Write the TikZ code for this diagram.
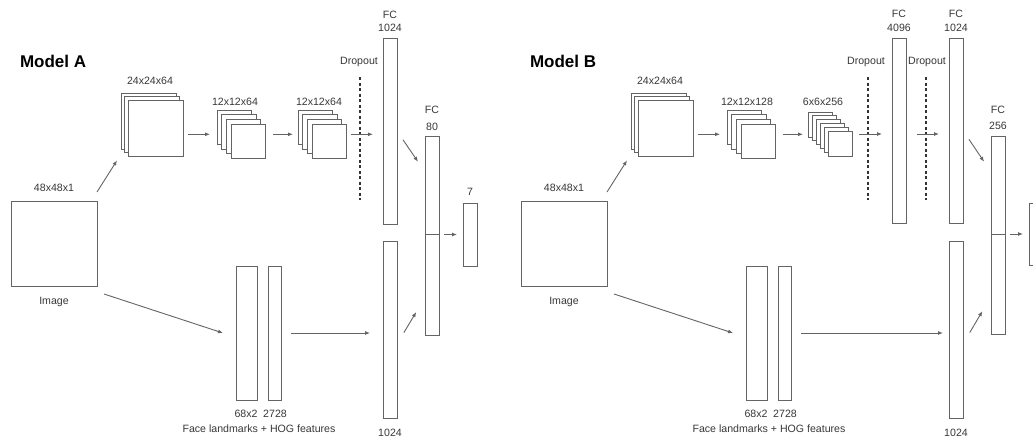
\documentclass[tikz,border=0pt]{standalone}
\usepackage{fontspec}
\setmainfont{Liberation Sans}
\usepackage{xcolor}
\definecolor{edge}{RGB}{100,100,100}
\definecolor{ink}{RGB}{55,55,55}
\usepackage{tikz}
\usetikzlibrary{arrows.meta,positioning}

\begin{document}
\begin{tikzpicture}[x=1pt, y=-1pt,
    every node/.style={inner sep=0pt, outer sep=0pt},
    txt/.style={text=ink, font=\fontsize{10.6}{13}\selectfont},
    title/.style={anchor=west, font=\fontsize{17}{20}\selectfont\bfseries},
    layer/.style={draw=edge, line width=1pt, fill=white, anchor=north west},
    frame/.style={anchor=north west},
    arr/.style={draw=edge, line width=0.9pt, -{Latex[length=5pt,width=4pt]}},
    drop/.style={draw=black!80, line width=1.6pt, dash pattern=on 3pt off 2.5pt}]
    \useasboundingbox (0,0) rectangle (1033,437);
    \clip (0,0) rectangle (1033,437);

    % ---------------- Model A ----------------
    \node[title] (tA) at (20,61) {Model A};

    % input image
    \node[layer, minimum width=86, minimum height=85] (imgA) at (11,201) {};
    \node[txt] at (54,188) {48x48x1};
    \node[txt] at (54,302) {Image};

    % conv feature maps
    \foreach \i in {0,1,2}
        \node[layer, minimum width=55, minimum height=56] at (121+3.5*\i, 93+3.7*\i) {};
    \node[frame, minimum width=62, minimum height=63.4] (A1) at (121,93) {};
    \node[txt] at (150,81) {24x24x64};

    \foreach \i in {0,...,3}
        \node[layer, minimum width=34.5, minimum height=34.5] at (217+4.7*\i, 110+4.7*\i) {};
    \node[frame, minimum width=48.6, minimum height=48.6] (A2) at (217,110) {};
    \node[txt] at (235,102) {12x12x64};

    \foreach \i in {0,...,3}
        \node[layer, minimum width=34.5, minimum height=34.5] at (298+4.7*\i, 110+4.7*\i) {};
    \node[frame, minimum width=48.6, minimum height=48.6] (A3) at (298,110) {};
    \node[txt] at (319,102) {12x12x64};

    % dropout
    \node[txt] (dropA) at (359,62) {Dropout};
    \draw[drop] (360,77) -- (360,200);

    % fully connected layers
    \node[layer, minimum width=14, minimum height=186] (fcA1) at (383,38) {};
    \node[txt] at (390,15) {FC};
    \node[txt] at (390,28) {1024};
    \node[layer, minimum width=14, minimum height=177] (fcA1b) at (383,241) {};
    \node[txt] at (390,433) {1024};
    \node[layer, minimum width=14, minimum height=199] (fcA2) at (425,136) {};
    \node[txt] at (432,110) {FC};
    \node[txt] at (432,127) {80};
    \node[layer, minimum width=14, minimum height=63] (outA) at (463,203) {};
    \node[txt] at (470,192) {7};
    \draw[draw=edge, line width=1pt] (fcA2.west |- outA.west) -- (fcA2.east |- outA.west);

    % landmarks + HOG
    \node[layer, minimum width=21, minimum height=134] (lmA1) at (236,266) {};
    \node[layer, minimum width=13, minimum height=134] (lmA2) at (268,266) {};
    \node[txt] at (246,414) {68x2};
    \node[txt] at (275,414) {2728};
    \node[txt] at (259,429) {Face landmarks + HOG features};

    % connections
    \draw[arr] ([yshift=9pt]imgA.north east) -- ([xshift=-4pt,yshift=-4pt]A1.south west);
    \draw[arr] ([xshift=7pt,yshift=-8pt]imgA.south east) -- ([xshift=-13pt]lmA1.west);
    \draw[arr, shorten <=5pt, shorten >=7pt] (A1.east |- A2.west) -- (A2.west);
    \draw[arr, shorten <=7.5pt, shorten >=5pt] (A2.east) -- (A3.west);
    \draw[arr, shorten <=4.5pt, shorten >=10pt] (A3.east) -- (A3.east -| fcA1.west);
    \draw[arr, shorten <=10pt, shorten >=13pt] (lmA2.east) -- (lmA2.east -| fcA1b.west);
    \draw[arr, shorten <=10.6pt, shorten >=12.4pt] (fcA1.east) -- ([yshift=-36pt]fcA2.north west);
    \draw[arr, shorten <=13.3pt, shorten >=17pt] ([yshift=-103pt]fcA1b.north east) -- ([yshift=37.5pt]fcA2.south west);
    \draw[arr, shorten <=5pt, shorten >=6pt] (fcA2.east |- outA.west) -- (outA.west);

    % ---------------- Model B ----------------
    \node[title] (tB) at (530,61) {Model B};

    % input image
    \node[layer, minimum width=86, minimum height=85] (imgB) at (521,201) {};
    \node[txt] at (564,188) {48x48x1};
    \node[txt] at (564,302) {Image};

    % conv feature maps
    \foreach \i in {0,1,2}
        \node[layer, minimum width=55, minimum height=56] at (631+3.5*\i, 93+3.7*\i) {};
    \node[frame, minimum width=62, minimum height=63.4] (B1) at (631,93) {};
    \node[txt] at (660,81) {24x24x64};

    \foreach \i in {0,...,3}
        \node[layer, minimum width=34.5, minimum height=34.5] at (727+4.7*\i, 110+4.7*\i) {};
    \node[frame, minimum width=48.6, minimum height=48.6] (B2) at (727,110) {};
    \node[txt] at (747,102) {12x12x128};

    \foreach \i in {0,...,5}
        \node[layer, minimum width=24, minimum height=25] at (808+4*\i, 112+3.8*\i) {};
    \node[frame, minimum width=44, minimum height=44] (B3) at (808,112) {};
    \node[txt] at (823,102) {6x6x256};

    % dropout
    \node[txt] (dropB1) at (866,62) {Dropout};
    \draw[drop] (868,77) -- (868,200);
    \node[txt] (dropB2) at (927,62) {Dropout};
    \draw[drop] (926,77) -- (926,200);

    % fully connected layers
    \node[layer, minimum width=14, minimum height=185] (fcB1) at (892,38) {};
    \node[txt] at (899,14) {FC};
    \node[txt] at (899,28) {4096};
    \node[layer, minimum width=14, minimum height=185] (fcB2) at (949,38) {};
    \node[txt] at (956,14) {FC};
    \node[txt] at (956,28) {1024};
    \node[layer, minimum width=14, minimum height=177] (fcB2b) at (949,241) {};
    \node[txt] at (956,433) {1024};
    \node[layer, minimum width=14, minimum height=198] (fcB3) at (991,136) {};
    \node[txt] at (998,110) {FC};
    \node[txt] at (998,126) {256};
    \node[layer, minimum width=14, minimum height=62] (outB) at (1029,203) {};
    \node[txt] at (1036,192) {7};
    \draw[draw=edge, line width=1pt] (fcB3.west |- outB.west) -- (fcB3.east |- outB.west);

    % landmarks + HOG
    \node[layer, minimum width=21, minimum height=134] (lmB1) at (746,266) {};
    \node[layer, minimum width=13, minimum height=134] (lmB2) at (778,266) {};
    \node[txt] at (756,414) {68x2};
    \node[txt] at (785,414) {2728};
    \node[txt] at (769,429) {Face landmarks + HOG features};

    % connections
    \draw[arr] ([yshift=9pt]imgB.north east) -- ([xshift=-4pt,yshift=-4pt]B1.south west);
    \draw[arr] ([xshift=7pt,yshift=-8pt]imgB.south east) -- ([xshift=-13pt]lmB1.west);
    \draw[arr, shorten <=5pt, shorten >=7pt] (B1.east |- B2.west) -- (B2.west);
    \draw[arr, shorten <=7.5pt, shorten >=5pt] (B2.east) -- (B2.east -| B3.west);
    \draw[arr, shorten <=7pt, shorten >=10pt] (B3.east) -- (B3.east -| fcB1.west);
    \draw[arr, shorten <=11pt, shorten >=10pt] (fcB1.east |- B3.east) -- (B3.east -| fcB2.west);
    \draw[arr, shorten <=10pt, shorten >=6pt] (lmB2.east) -- (lmB2.east -| fcB2b.west);
    \draw[arr, shorten <=10.6pt, shorten >=12.4pt] (fcB2.east) -- ([yshift=-36pt]fcB3.north west);
    \draw[arr, shorten <=13.3pt, shorten >=17pt] ([yshift=-103pt]fcB2b.north east) -- ([yshift=37.5pt]fcB3.south west);
    \draw[arr, shorten <=5pt, shorten >=6pt] (fcB3.east |- outB.west) -- (outB.west);
\end{tikzpicture}
\end{document}
